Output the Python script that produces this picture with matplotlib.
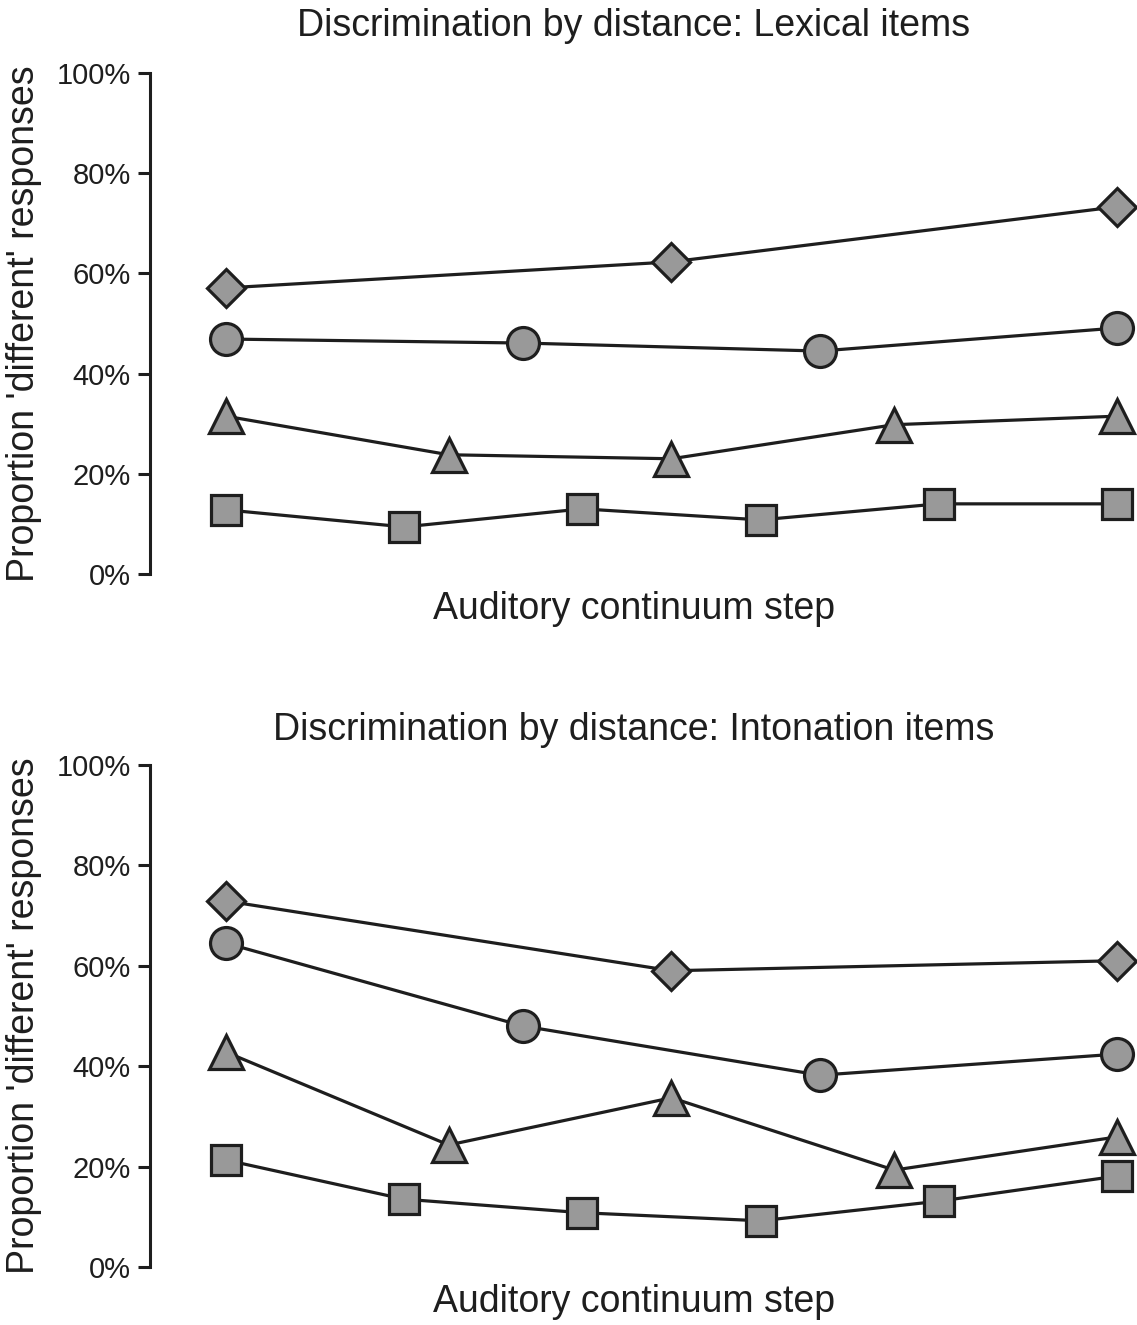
import matplotlib
matplotlib.use('Agg')
import matplotlib.pyplot as plt
from matplotlib.ticker import PercentFormatter

plt.rcParams['font.family'] = ['Liberation Sans', 'DejaVu Sans']

#----------data (percent 'different' responses)----------*
# x positions run from first to last continuum step, scaled 0..1
x_sq = [0, 0.2, 0.4, 0.6, 0.8, 1.0]
x_tri = [0, 0.25, 0.5, 0.75, 1.0]
x_circ = [0, 1/3, 2/3, 1.0]
x_dia = [0, 0.5, 1.0]

lex_sq = [12.8, 9.4, 13.0, 10.8, 14.0, 14.0]
lex_tri = [31.5, 23.8, 23.0, 29.8, 31.5]
lex_circ = [46.9, 46.1, 44.5, 49.1]
lex_dia = [57.1, 62.3, 73.3]

int_sq = [21.3, 13.5, 10.8, 9.2, 13.1, 18.1]
int_tri = [42.8, 24.3, 33.7, 19.3, 25.9]
int_circ = [64.5, 48.0, 38.2, 42.4]
int_dia = [72.9, 59.0, 61.0]

titles = ['Discrimination by distance: Lexical items',
          'Discrimination by distance: Intonation items']
title_pads = [27, 18]

fig = plt.figure(figsize=(11.37, 13.25), dpi=100)
ax1 = fig.add_axes([0.1319, 0.5668, 0.868, 0.3781])
ax2 = fig.add_axes([0.1319, 0.0438, 0.868, 0.3789])

style = dict(color='#1e1e1e', lw=2.3, mfc='#999999', mec='#1e1e1e', mew=2.3)

panels = [(ax1, lex_sq, lex_tri, lex_circ, lex_dia),
          (ax2, int_sq, int_tri, int_circ, int_dia)]

for i, (ax, sq, tri, circ, dia) in enumerate(panels):
    ax.plot(x_sq, sq, marker='s', ms=21, **style, clip_on=False)
    ax.plot(x_tri, tri, marker='^', ms=24, **style, clip_on=False)
    ax.plot(x_circ, circ, marker='o', ms=23, **style, clip_on=False)
    ax.plot(x_dia, dia, marker='D', ms=19, **style, clip_on=False)

    ax.set_xlim(-0.0853, 1.0224)
    ax.set_ylim(0, 100)
    ax.set_yticks([0, 20, 40, 60, 80, 100])
    ax.yaxis.set_major_formatter(PercentFormatter(decimals=0))
    ax.tick_params(axis='y', labelsize=21, length=9, width=2.2,
                   color='#1e1e1e', labelcolor='#1e1e1e', pad=5)
    ax.set_xticks([])
    for s in ['top', 'right', 'bottom']:
        ax.spines[s].set_visible(False)
    ax.spines['left'].set_linewidth(2.2)
    ax.spines['left'].set_color('#1e1e1e')

    ax.set_ylabel("Proportion 'different' responses", fontsize=27,
                  color='#1e1e1e', labelpad=10)
    ax.set_xlabel('Auditory continuum step', fontsize=27,
                  color='#1e1e1e', labelpad=12)
    ax.xaxis.label.set_x(0.491)
    ax.set_title(titles[i], fontsize=27, color='#1e1e1e',
                 pad=title_pads[i], x=0.49)

fig.savefig('out.png', dpi=100)
